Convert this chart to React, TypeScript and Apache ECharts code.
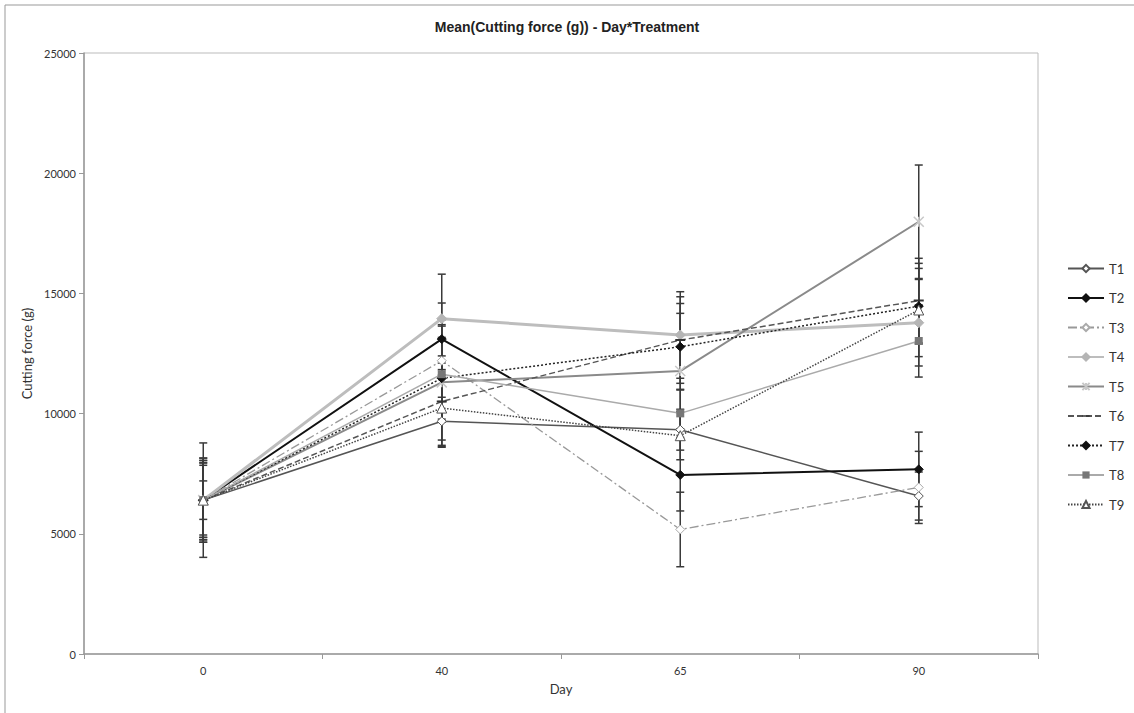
import React, { useEffect, useRef } from "react";
import * as echarts from "echarts";

const days = ["0", "40", "65", "90"];
const yTicks = [0, 5000, 10000, 15000, 20000, 25000];

const t1 = [6400, 9680, 9330, 6570];
const t2 = [6400, 13100, 7450, 7680];
const t3 = [6400, 12200, 5180, 6930];
const t4 = [6400, 13950, 13270, 13780];
const t5 = [6400, 11300, 11770, 17980];
const t6 = [6400, 10500, 13060, 14700];
const t7 = [6400, 11470, 12780, 14470];
const t8 = [6400, 11640, 10010, 13020];
const t9 = [6400, 10230, 9080, 14310];

const e1 = [1650, 1000, 850, 1000];
const e2 = [1550, 1500, 1500, 1550];
const e3 = [1750, 1700, 1550, 1500];
const e4 = [1450, 1850, 1800, 1800];
const e5 = [2380, 2400, 2400, 2360];
const e6 = [1650, 1900, 1800, 1760];
const e7 = [1550, 1700, 1800, 1570];
const e8 = [800, 2000, 1000, 1500];
const e9 = [1750, 1600, 1000, 1940];

const names = ["T1", "T2", "T3", "T4", "T5", "T6", "T7", "T8", "T9"];
const means = [t1, t2, t3, t4, t5, t6, t7, t8, t9];
const errs = [e1, e2, e3, e4, e5, e6, e7, e8, e9];

const FONT = "Lato, 'Liberation Sans', sans-serif";

const STAR = "path://M0,0L10,10M10,0L0,10M5,0L5,10";
const DASH = "path://M0,0L0,0.01M0,4L10,4L10,6L0,6ZM10,10L10,9.99";

const styles: any[] = [
  { line: { color: "#555", width: 1.5, type: "solid" }, symbol: "diamond", size: 9, item: { color: "#fff", borderColor: "#555", borderWidth: 1 } },
  { line: { color: "#111", width: 2, type: "solid" }, symbol: "diamond", size: 9, item: { color: "#111", borderColor: "#111", borderWidth: 1 } },
  { line: { color: "#999", width: 1.3, type: [9, 3, 2, 3] }, symbol: "diamond", size: 9, item: { color: "#fff", borderColor: "#aaa", borderWidth: 1 } },
  { line: { color: "#bdbdbd", width: 3, type: "solid" }, symbol: "diamond", size: 10, item: { color: "#b5b5b5", borderColor: "#b5b5b5", borderWidth: 1 } },
  { line: { color: "#8a8a8a", width: 2, type: "solid" }, symbol: STAR, size: 10, item: { color: "#c8c8c8", borderColor: "#c8c8c8", borderWidth: 1.5 } },
  { line: { color: "#555", width: 1.5, type: [6, 3] }, symbol: DASH, size: 10, item: { color: "#333", borderColor: "#333", borderWidth: 0 } },
  { line: { color: "#222", width: 1.5, type: [2, 2] }, symbol: "diamond", size: 9, item: { color: "#111", borderColor: "#111", borderWidth: 1 } },
  { line: { color: "#aaa", width: 1.5, type: "solid" }, symbol: "rect", size: 8, item: { color: "#777", borderColor: "#777", borderWidth: 0 } },
  { line: { color: "#444", width: 1.5, type: [1.5, 1.5] }, symbol: "triangle", size: 10, item: { color: "#fff", borderColor: "#555", borderWidth: 1 } },
];

export default function App() {
  const ref = useRef<HTMLDivElement>(null);
  useEffect(() => {
    if (!ref.current) return;
    const chart = echarts.init(ref.current, undefined, { renderer: "svg" });

    const errData: any[] = [];
    means.forEach((m, s) => {
      m.forEach((v, i) => {
        errData.push([i, v - errs[s][i], v + errs[s][i]]);
      });
    });

    const lineSeries = names.map((n, s) => ({
      name: n,
      type: "line",
      data: means[s],
      symbol: styles[s].symbol,
      symbolSize: styles[s].size,
      showSymbol: true,
      lineStyle: styles[s].line,
      itemStyle: styles[s].item,
      z: 3,
    }));

    const option: any = {
      animation: false,
      backgroundColor: "#fff",
      title: {
        text: "Mean(Cutting force (g)) - Day*Treatment",
        left: "center",
        top: 15,
        textStyle: { fontFamily: "'Liberation Sans', Arial, sans-serif", fontSize: 14, fontWeight: "bold", color: "#222" },
      },
      graphic: [
        { type: "line", shape: { x1: 5, y1: 5, x2: 1140, y2: 5 }, style: { stroke: "#999", lineWidth: 1 } },
        { type: "line", shape: { x1: 5, y1: 5, x2: 5, y2: 720 }, style: { stroke: "#999", lineWidth: 1 } },
      ],
      legend: {
        data: names,
        orient: "vertical",
        left: 1062,
        top: 257,
        itemWidth: 36,
        itemHeight: 9,
        itemGap: 16.5,
        textStyle: { fontFamily: FONT, fontSize: 13, color: "#333" },
      },
      grid: {
        left: 84,
        top: 53,
        right: 96,
        bottom: 59,
        show: true,
        borderColor: "#bbb",
        borderWidth: 1,
      },
      xAxis: {
        type: "category",
        data: days,
        boundaryGap: true,
        name: "Day",
        nameLocation: "middle",
        nameGap: 28,
        nameTextStyle: { fontFamily: FONT, fontSize: 13, color: "#333" },
        axisLine: { lineStyle: { color: "#999", width: 1.5 } },
        axisTick: { show: true, length: 5, lineStyle: { color: "#999" } },
        axisLabel: { fontFamily: FONT, fontSize: 11, color: "#333", margin: 11 },
        splitLine: { show: false },
      },
      yAxis: {
        type: "value",
        min: yTicks[0],
        max: yTicks[yTicks.length - 1],
        interval: 5000,
        name: "Cutting force (g)",
        nameLocation: "middle",
        nameGap: 34,
        nameTextStyle: { fontFamily: FONT, fontSize: 13, color: "#333" },
        axisLine: { show: true, lineStyle: { color: "#999", width: 1.5 } },
        axisTick: { show: true, length: 5, lineStyle: { color: "#999" } },
        axisLabel: { fontFamily: FONT, fontSize: 11, color: "#333", margin: 8, formatter: (v: number) => String(v) },
        splitLine: { show: false },
      },
      series: [
        {
          type: "custom",
          name: "err",
          z: 2,
          silent: true,
          data: errData,
          encode: { x: 0, y: [1, 2] },
          renderItem: (params: any, api: any) => {
            const x = api.value(0);
            const lo = api.coord([x, api.value(1)]);
            const hi = api.coord([x, api.value(2)]);
            const hw = 4;
            const st = { stroke: "#3a3a3a", lineWidth: 1.5 };
            return {
              type: "group",
              children: [
                { type: "line", shape: { x1: lo[0], y1: lo[1], x2: hi[0], y2: hi[1] }, style: st },
                { type: "line", shape: { x1: lo[0] - hw, y1: lo[1], x2: lo[0] + hw, y2: lo[1] }, style: st },
                { type: "line", shape: { x1: hi[0] - hw, y1: hi[1], x2: hi[0] + hw, y2: hi[1] }, style: st },
              ],
            };
          },
        },
        ...lineSeries,
      ],
    };
    chart.setOption(option);
    return () => chart.dispose();
  }, []);
  return (
    <div
      ref={ref}
      style={{ position: "fixed", left: 0, top: 0, width: 1134, height: 713, background: "#fff" }}
    />
  );
}
